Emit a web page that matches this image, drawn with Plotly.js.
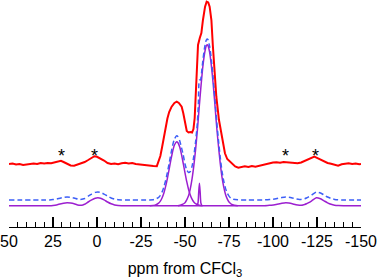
<!DOCTYPE html>
<html><head><meta charset="utf-8">
<script src="https://cdn.plot.ly/plotly-3.0.1.min.js"></script>
<style>html,body{margin:0;padding:0;background:#fff}</style>
</head><body><div id="chart" style="width:378px;height:279px"></div>
<script>
// Experimental spectrum (red), intensity above its own baseline
const ppmExp = [50,48,46,44,42,40,38,36,34,32,30,28,26,24,22,20.5,19,17,15,13,11,9,7,5,3,1.5,0,-2,-4,-6,-8,-10,-12,-14,-16,-18,-20,-22,-24,-26,-28,-30,-32,-34,-35,-36,-37,-38,-39,-40,-41,-42.4,-44,-45.3,-46.5,-48.1,-49,-50,-51,-52,-53,-54,-54.8,-55.5,-56.2,-56.8,-57.4,-58.4,-59.3,-60.2,-61.4,-62.3,-63.2,-64,-65,-65.8,-66.5,-67.8,-69.3,-70.6,-71.5,-72.7,-74,-75.6,-77,-78.5,-80.3,-82,-84,-86,-88,-90,-92,-94,-96,-98,-100,-102,-104,-106,-108,-110,-112,-114,-116,-118,-120,-122,-123.5,-125,-126.5,-128,-129.5,-131,-133,-135,-137,-139,-141,-143,-145,-147,-149,-150];
const intExp = [0,0.5,-0.5,0,-1,-0.3,0.2,0.5,0,1,0.5,1,0.7,1.5,2.5,3.2,2,0.5,-1.5,-1.7,-0.5,0.7,2,4,6.2,7.8,7.2,5.7,3.5,1,0,0.5,-0.2,0.7,1.2,0.5,1,0,-0.5,-1,-1,-1.5,-2,-2.2,2,8,17,27,37,45.5,52,57.3,61,62.3,61,57.3,51,41,33,31.5,32,31.5,35,46,69,99,119,126,131,144,157.3,162.3,161.5,157.3,144,119,97.3,67.3,44,31,21,10.7,5,2,-0.5,-2.5,-3.7,-3,-2.3,-3,-2,-2.7,-1.8,-0.5,0,1,1.5,1.7,1.2,2,1.7,1,1.4,0.7,1.5,3,4.7,6.5,7.5,6.2,5,3.7,2.3,1,0.3,-0.5,-1.7,-0.3,0.5,0.7,0,0.5,-0.3,0];

// Sum of fitted components (blue dashed)
const ppmSum = [50,29,27,25,23,21,19,17,15,13,11,9.5,8,7,5,3,1,-0.5,-2,-4,-6,-8,-10,-12,-14,-16,-30,-32,-33,-35,-36,-37,-38,-39,-40,-41,-42,-43,-44,-45.3,-46,-47,-48,-49,-50,-51,-52,-53,-54,-55,-56,-57,-57.6,-58.2,-58.8,-59.4,-60,-61,-62,-62.6,-63,-64,-65,-66,-67,-68,-69,-70,-71,-72,-73,-74,-75,-76,-77.5,-80,-85,-95,-97,-99,-101,-103,-105,-107.3,-109,-111,-113,-115,-116,-117,-118,-119,-120,-122,-124.6,-127,-129,-131,-133,-135,-137,-140,-150];
const intSum = [0,0,0.1,0.4,0.9,1.8,2.6,3,2.7,2,0.9,0.6,0.9,1.5,3.8,5.9,7.6,8,7.6,5.9,3.8,2,0.9,0.3,0.1,0,0.1,0.3,0.7,2.6,4.7,8.1,13,19.5,27.5,36.7,46.2,54.7,61,64.2,63.3,59.3,52.4,45,36,30,27.5,28.5,33.6,43.8,58,76.5,96,120,120,127,137,151,159.5,161,160.5,153.5,140,122,101,79,60,43,29,19,11.6,6.9,3.9,2,0.8,0.2,0,0.1,0.3,0.6,1,1.7,2.5,3,2.7,2,1.1,0.6,0.6,0.8,1.3,2,2.9,5,8,7,5,3,1.5,0.6,0.2,0,0];

// Fitted components (purple)
const ppmSidebands = [50,29,27,25,23,21,19,17,15,13,11,9.5,8,7,5,3,1,-0.5,-2,-4,-6,-8,-10,-12,-14,-16,-90,-95,-97,-99,-101,-103,-105,-107.3,-109,-111,-113,-115,-116,-117,-118,-119,-120,-122,-124.6,-127,-129,-131,-133,-135,-137,-140,-150];
const intSidebands = [0,0,0.1,0.4,0.9,1.8,2.6,3,2.7,2,0.9,0.6,0.9,1.5,3.8,5.9,7.6,8,7.6,5.9,3.8,2,0.9,0.3,0.1,0,0,0.1,0.3,0.6,1,1.7,2.5,3,2.7,2,1.1,0.6,0.6,0.8,1.3,2,2.9,5,8,7,5,3,1.5,0.6,0.2,0,0];
const ppmPeakA = [-30,-33,-35,-36,-37,-38,-39,-40,-41,-42,-43,-44,-45.3,-46,-47,-48,-49,-50,-51,-52,-53,-54,-55,-56,-58,-60];
const intPeakA = [0,0.7,2.6,4.7,8.1,12.9,19.4,27.5,36.7,46.1,54.6,60.8,64,63,58.7,51.4,42.4,33,24.1,16.6,10.8,6.6,3.8,2.1,0.5,0];
const ppmPeakB = [-56.8,-57.4,-57.8,-58.2,-58.6,-59,-59.6];
const intPeakB = [0,3,14,22.5,14,3,0];
const ppmPeakC = [-46,-48,-50,-51,-52,-53,-54,-55,-56,-57,-58,-59,-60,-61,-62,-62.6,-63,-64,-65,-66,-67,-68,-69,-70,-71,-72,-73,-74,-75,-77,-80];
const intPeakC = [0,1,3,6,10,17,27,40,56,75,97,118,137,151,159.5,161,160.5,153.5,140,122,101,79,60,43,29,19,11.6,6.9,3.9,1,0];

// Spinning sideband markers
const starPpm = [20, 1.5, -107, -124];
const starInt = [8, 8, 8, 8];

// Axis ticks
const tickVals = [50,25,0,-25,-50,-75,-100,-125,-150];
const tickText = ['50','25','0','-25','-50','-75','-100','-125','-150'];

const FONT = 'Liberation Sans, Arial, sans-serif';
const RED = '#ff0000', BLUE = '#3d5ff7', PURPLE = '#9c1fd0';
const purpleLine = {color: PURPLE, width: 1.5, shape: 'spline', smoothing: 0.6};
const traces = [
  {x: ppmExp, y: intExp, yaxis: 'y3', mode: 'lines', line: {color: RED, width: 2}},
  {x: ppmSum, y: intSum, yaxis: 'y2', mode: 'lines', line: {color: BLUE, width: 1.5, dash: '5px,3px', shape: 'spline', smoothing: 0.6}},
  {x: ppmSidebands, y: intSidebands, mode: 'lines', line: purpleLine},
  {x: ppmPeakA, y: intPeakA, mode: 'lines', line: purpleLine},
  {x: ppmPeakB, y: intPeakB, mode: 'lines', line: purpleLine},
  {x: ppmPeakC, y: intPeakC, mode: 'lines', line: purpleLine}
];
const annotations = starPpm.map((p, i) => ({
  x: p, y: starInt[i], xref: 'x', yref: 'y3', text: '*', showarrow: false,
  xanchor: 'center', yanchor: 'middle', font: {family: FONT, size: 18, color: '#000'}
}));
const layout = {
  width: 378, height: 279,
  margin: {l: 9, r: 17, t: 0, b: 52},
  paper_bgcolor: '#fff', plot_bgcolor: '#fff',
  showlegend: false,
  font: {family: FONT, size: 15, color: '#000'},
  annotations: annotations,
  xaxis: {
    range: [50, -150], tickmode: 'array', tickvals: tickVals, ticktext: tickText,
    ticks: 'inside', ticklen: 10, tickwidth: 1.2, tickcolor: '#000',
    minor: {dtick: 5, ticks: 'inside', ticklen: 5.5, tickwidth: 1.2, tickcolor: '#000'},
    showline: true, linewidth: 1.2, linecolor: '#000',
    showgrid: false, zeroline: false,
    tickfont: {family: FONT, size: 16, color: '#000'},
    title: {text: 'ppm from CFCl<sub>3</sub>', font: {family: FONT, size: 16, color: '#000'}, standoff: 13},
    automargin: false
  },
  yaxis: {range: [-21.2, 205.8], visible: false, fixedrange: true},
  yaxis2: {range: [-27, 200], visible: false, overlaying: 'y'},
  yaxis3: {range: [-63, 164], visible: false, overlaying: 'y'}
};
Plotly.newPlot('chart', traces, layout, {staticPlot: true, displayModeBar: false});
</script></body></html>
